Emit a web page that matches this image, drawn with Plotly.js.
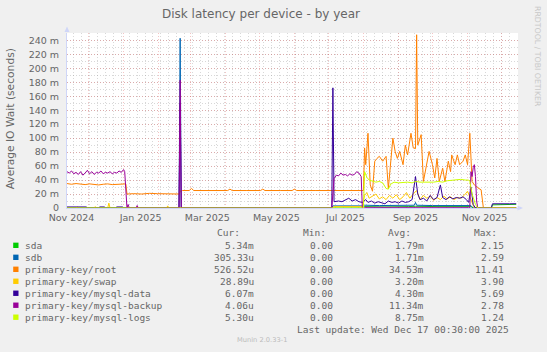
<!DOCTYPE html>
<html><head><meta charset="utf-8">
<script src="https://cdn.plot.ly/plotly-3.0.1.min.js"></script>
<style>html,body{margin:0;padding:0;background:#F0F0F0;}#chart{width:547px;height:352px;}</style>
</head><body><div id="chart"></div>
<script>
// ---------- DATA (values in milliseconds) ----------
const sdaX = ['2024-11-12','2025-07-31','2025-08-02','2025-08-20','2025-09-10','2025-09-16','2025-10-05','2025-10-25','2025-11-04','2025-11-06','2025-11-22','2025-11-23','2025-12-01','2025-12-08','2025-12-14'];
const sdaY = [0,0,2,1.5,2,2.5,2,2,2,0,0,4.5,5,5,5.3];

const sdbX = ['2024-11-12','2025-02-19','2025-02-20','2025-02-21','2025-07-04','2025-07-05','2025-07-31','2025-08-02','2025-08-15','2025-09-01','2025-09-15','2025-09-16','2025-09-17','2025-10-01','2025-10-20','2025-11-04','2025-11-06','2025-11-22','2025-11-23','2025-12-14'];
const sdbY = [0,0,243,0,0,3,3,4,3.5,4,4,8,4,3.5,4,3.5,0,0,0.5,0.3];

const rootX = ['2024-11-12','2024-11-16','2024-11-20','2024-11-24','2024-11-28','2024-12-02','2024-12-06','2024-12-10','2024-12-14','2024-12-18','2024-12-22','2024-12-26','2024-12-30','2025-01-03','2025-01-04','2025-01-10','2025-01-17','2025-01-24','2025-01-31','2025-02-07','2025-02-14','2025-02-19','2025-02-20','2025-02-22','2025-02-28','2025-03-02','2025-03-04','2025-03-20','2025-04-03','2025-04-05','2025-04-07','2025-04-20','2025-05-02','2025-05-04','2025-05-06','2025-05-20','2025-05-30','2025-06-01','2025-06-03','2025-06-20','2025-07-04','2025-07-15','2025-07-30',
 '2025-08-01','2025-08-02','2025-08-03','2025-08-05','2025-08-07','2025-08-09','2025-08-11','2025-08-13','2025-08-15','2025-08-18','2025-08-21','2025-08-23','2025-08-25','2025-08-27','2025-08-29','2025-08-31','2025-09-02','2025-09-05','2025-09-07','2025-09-09','2025-09-12','2025-09-14','2025-09-16','2025-09-17','2025-09-18','2025-09-19','2025-09-21','2025-09-23','2025-09-25','2025-09-28','2025-10-01','2025-10-03','2025-10-05','2025-10-07','2025-10-10','2025-10-12','2025-10-15','2025-10-17','2025-10-18','2025-10-21','2025-10-23','2025-10-25','2025-10-28','2025-10-30','2025-11-01','2025-11-03','2025-11-05','2025-11-07','2025-11-10','2025-11-13','2025-11-15','2025-12-14'];
const rootY = [35,34,35,34.5,33.5,34.5,34,33,34,34.5,33.5,34,34.5,34.5,20,20.5,20,21,20.5,20,20.5,20,24,25,25,28,25,25,25,27,25,25,25,27,25,25,25,27,25,25,25,25.5,25,
 25,86,62,107,33,24,67,71,74,67,74,28,62,100,81,71,81,62,90,76,107,86,85,248,90,95,105,38,57,81,62,43,71,38,57,38,67,52,76,62,76,62,67,76,62,107,38,33,29,26,0,0];

const swapX = ['2024-11-12','2024-11-20','2024-11-21','2024-11-22','2024-12-06','2024-12-07','2024-12-08','2024-12-18','2024-12-19','2024-12-20','2025-02-08','2025-02-09','2025-02-10','2025-07-04','2025-07-06','2025-07-31',
 '2025-08-02','2025-08-04','2025-08-06','2025-08-09','2025-08-12','2025-08-15','2025-08-18','2025-08-21','2025-08-24','2025-08-27','2025-08-30','2025-09-02','2025-09-05','2025-09-08','2025-09-11','2025-09-14','2025-09-17','2025-09-20','2025-09-23','2025-09-26','2025-09-29','2025-10-02','2025-10-05','2025-10-08','2025-10-11','2025-10-14','2025-10-17','2025-10-20','2025-10-23','2025-10-26','2025-10-29','2025-11-01','2025-11-03','2025-11-05','2025-11-07','2025-12-14'];
const swapY = [0,0,1.5,0,0,2,0,0,7,0,0,3,0,0,2,2,
 18,22,14,17,20,13,16,12,18,14,19,12,16,22,14,20,25,12,18,14,17,11,15,12,17,13,16,12,15,14,18,24,15,8,0,0];

const dataX = ['2024-11-12','2024-11-29','2024-11-30','2024-12-10','2024-12-11','2024-12-15','2024-12-16','2024-12-25','2024-12-26','2024-12-31','2025-01-01','2025-02-19','2025-02-20','2025-02-21','2025-07-04','2025-07-05','2025-07-06','2025-07-10','2025-07-13','2025-07-16','2025-07-19','2025-07-22','2025-07-25','2025-07-28','2025-07-31',
 '2025-08-03','2025-08-05','2025-08-08','2025-08-11','2025-08-14','2025-08-17','2025-08-20','2025-08-23','2025-08-26','2025-08-29','2025-09-01','2025-09-04','2025-09-07','2025-09-10','2025-09-13','2025-09-16','2025-09-18','2025-09-20','2025-09-23','2025-09-26','2025-09-29','2025-10-02','2025-10-05','2025-10-08','2025-10-10','2025-10-13','2025-10-16','2025-10-19','2025-10-22','2025-10-25','2025-10-28','2025-10-31','2025-11-02','2025-11-04','2025-11-06','2025-11-08','2025-11-22','2025-11-23','2025-12-01','2025-12-08','2025-12-14'];
const dataY = [1.5,1.5,0,0,1.5,1.5,0,0,1.5,1.5,0,0,150,0,0,172,9,10,9,11,14,10,12,9,8,
 12,8,10,7,9,8,6,10,8,9,7,10,8,9,12,45,20,12,14,10,18,12,15,33,15,12,16,13,15,14,16,12,8,30,5,0,0,6,6.5,6,6.1];

const backupX = ['2024-11-12','2024-11-14','2024-11-16','2024-11-18','2024-11-20','2024-11-22','2024-11-24','2024-11-26','2024-11-28','2024-11-30','2024-12-02','2024-12-04','2024-12-06','2024-12-08','2024-12-10','2024-12-12','2024-12-14','2024-12-16','2024-12-18','2024-12-20','2024-12-22','2024-12-24','2024-12-26','2024-12-28','2024-12-30','2025-01-01','2025-01-02','2025-01-04','2025-01-05','2025-01-06','2025-01-12','2025-01-13','2025-01-14','2025-02-19','2025-02-20','2025-02-21','2025-07-04','2025-07-06','2025-07-08','2025-07-10','2025-07-12','2025-07-14','2025-07-16','2025-07-18','2025-07-20','2025-07-22','2025-07-24','2025-07-26','2025-07-28','2025-07-30','2025-07-31','2025-08-02','2025-11-02','2025-11-03','2025-11-04','2025-11-05','2025-11-06','2025-11-07','2025-11-08','2025-11-09','2025-11-10','2025-12-14'];
const backupY = [52,50,53,49,51,48,52,47,50,54,49,52,48,51,50,53,49,51,50,52,49,51,50,53,51,55,52,0,5,0,0,3.5,0,0,183,0,0,42,47,46,50,47,48,46,49,47,48,52,50,45,0,1,1,0,52,45,58,62,45,10,0,0];

const logsX = ['2024-11-12','2025-08-01','2025-08-02','2025-08-04','2025-08-06','2025-08-09','2025-08-12','2025-08-15','2025-08-18','2025-08-21','2025-08-23','2025-08-25','2025-08-28','2025-09-01','2025-09-05','2025-09-09','2025-09-13','2025-09-16','2025-09-20','2025-09-24','2025-09-28','2025-10-02','2025-10-06','2025-10-10','2025-10-14','2025-10-18','2025-10-22','2025-10-26','2025-10-30','2025-11-02','2025-11-03','2025-11-05','2025-11-08','2025-11-10','2025-12-14'];
const logsY = [0,0,52,44,40,38,37,38,36,28,27,34,37,36,37,37,36,38,37,37,36,37,38,37,39,40,40,41,40,40,38,20,5,0,0];

const seriesNames = ['sda','sdb','primary-key/root','primary-key/swap','primary-key/mysql-data','primary-key/mysql-backup','primary-key/mysql-logs'];
const curText = ['5.34m','305.33u','526.52u','28.89u','6.07m','4.06u','5.30u'];
const minText = ['0.00','0.00','0.00','0.00','0.00','0.00','0.00'];
const avgText = ['1.79m','1.71m','34.53m','3.20m','4.30m','11.34m','8.75m'];
const maxText = ['2.15','2.59','11.41','3.90','5.69','2.78','1.24'];

const yTickVals = [0,20,40,60,80,100,120,140,160,180,200,220,240];
const yTickText = ['0','20 m','40 m','60 m','80 m','100 m','120 m','140 m','160 m','180 m','200 m','220 m','240 m'];
const monthStarts = ['2024-12-01','2025-01-01','2025-02-01','2025-03-01','2025-04-01','2025-05-01','2025-06-01','2025-07-01','2025-08-01','2025-09-01','2025-10-01','2025-11-01','2025-12-01'];
const xLabelDates = ['2024-11-16','2025-01-16','2025-03-16','2025-05-16','2025-07-16','2025-09-16','2025-11-16'];
const xLabelText = ['Nov 2024','Jan 2025','Mar 2025','May 2025','Jul 2025','Sep 2025','Nov 2025'];

// ---------- STYLE / LAYOUT ----------
const colors = ['#00CC00','#0066B3','#FF8000','#FFCC00','#330099','#990099','#CCFF00'];
const W=547,H=352,L=67,R=518,T=33,B=208.3;
const xRange = ['2024-11-12','2025-12-15 14:00'];
const FONT='DejaVu Sans', MONO='DejaVu Sans Mono', FC='#666666';
const MGRID='rgba(222,79,79,0.33)', GRID='rgba(143,143,143,0.35)', DASH='1px,2px';
const px = x => (x-L)/(R-L);
const py = y => (B-y)/(B-T);

const xs=[sdaX,sdbX,rootX,swapX,dataX,backupX,logsX];
const ys=[sdaY,sdbY,rootY,swapY,dataY,backupY,logsY];
const traces = xs.map((x,i)=>({type:'scatter',mode:'lines',x:x,y:ys[i],name:seriesNames[i],
  line:{color:colors[i],width:1},hoverinfo:'skip',showlegend:false}));
traces.push({type:'scatter',mode:'lines',x:[],y:[],xaxis:'x2',showlegend:false,hoverinfo:'skip'});

const ann=[];
const shapes=[];
function txt(t,x,y,anchor,size,color,font,angle){
  ann.push({text:t,x:px(x),y:py(y),xref:'paper',yref:'paper',xanchor:anchor,yanchor:'middle',
    showarrow:false,borderpad:0,borderwidth:0,textangle:angle||0,
    font:{family:font||MONO,size:size||9.5,color:color||FC}});
}
// y axis title
txt('Average IO Wait (seconds)',10.5,119,'center',10.7,FC,FONT,-90);
// watermark
txt('RRDTOOL / TOBI OETIKER',537,56,'center',7.8,'#c8c8c8',FONT,90);
// legend header
txt('Cur:',240,233.3,'right');
txt('Min:',326,233.3,'right');
txt('Avg:',411,233.3,'right');
txt('Max:',497,233.3,'right');
seriesNames.forEach((n,i)=>{
  const yy=245.7+12*i;
  shapes.push({type:'rect',xref:'paper',yref:'paper',x0:px(13.2),x1:px(18.5),y0:py(yy-2.7),y1:py(yy+2.7),
    fillcolor:colors[i],line:{width:0}});
  txt(n,25,yy,'left');
  txt(curText[i],254,yy,'right');
  txt(minText[i],333,yy,'right');
  txt(avgText[i],424,yy,'right');
  txt(maxText[i],504,yy,'right');
});
txt('Last update: Wed Dec 17 00:30:00 2025',509,329.7,'right');
txt('Munin 2.0.33-1',262,341,'center',6.7,'#bbbbbb',FONT);

// axis arrows
shapes.push({type:'path',xref:'paper',yref:'paper',
  path:`M ${px(64.5)},${py(32)} L ${px(67)},${py(26.5)} L ${px(69.5)},${py(32)} Z`,
  fillcolor:'#CFD6F8',line:{width:0}});
shapes.push({type:'path',xref:'paper',yref:'paper',
  path:`M ${px(517.5)},${py(205.8)} L ${px(523)},${py(208.3)} L ${px(517.5)},${py(210.8)} Z`,
  fillcolor:'#CFD6F8',line:{width:0}});

const layout = {
  width:W,height:H,paper_bgcolor:'#F0F0F0',plot_bgcolor:'#FFFFFF',
  margin:{l:L,r:W-R,t:T,b:H-B,pad:0},showlegend:false,
  font:{family:FONT,size:9.5,color:FC},
  title:{text:'Disk latency per device - by year',font:{family:FONT,size:12,color:FC},
    xref:'container',yref:'container',x:261/W,y:1-14/H,xanchor:'center',yanchor:'middle'},
  xaxis:{type:'date',range:xRange,tickmode:'array',tickvals:monthStarts,showticklabels:false,ticks:'',
    showgrid:true,gridcolor:MGRID,griddash:DASH,gridwidth:1,zeroline:false,
    showline:true,linecolor:'#CFD6F8',linewidth:1,
    minor:{tickmode:'linear',tick0:'2024-11-11',dtick:7*86400000,showgrid:true,gridcolor:GRID,griddash:DASH,gridwidth:1,ticks:''}},
  xaxis2:{type:'date',overlaying:'x',anchor:'y',side:'bottom',range:xRange,tickmode:'array',
    tickvals:xLabelDates,ticktext:xLabelText,showgrid:false,zeroline:false,showline:false,
    ticks:'outside',ticklen:1,tickcolor:'rgba(0,0,0,0)',tickfont:{family:FONT,size:9.5,color:FC}},
  yaxis:{range:[0,250.5],tickmode:'array',tickvals:yTickVals,ticktext:yTickText,
    showgrid:true,gridcolor:MGRID,griddash:DASH,gridwidth:1,zeroline:false,
    showline:true,linecolor:'#CFD6F8',linewidth:1,
    ticks:'outside',ticklen:5,tickcolor:'rgba(0,0,0,0)',tickfont:{family:FONT,size:9.5,color:FC},
    minor:{tickmode:'linear',tick0:0,dtick:10,showgrid:true,gridcolor:GRID,griddash:DASH,gridwidth:1,ticks:''}},
  annotations:ann,shapes:shapes
};
Plotly.newPlot('chart',traces,layout,{staticPlot:true,displayModeBar:false});
</script></body></html>
